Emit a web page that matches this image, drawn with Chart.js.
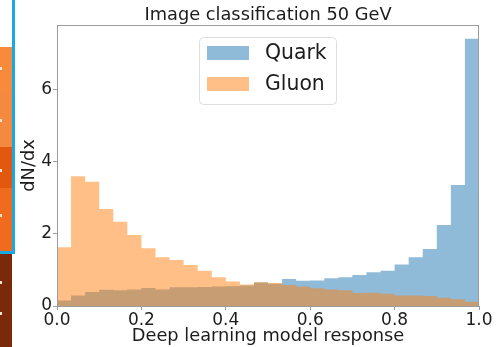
<!DOCTYPE html>
<html>
<head>
<meta charset="utf-8">
<script src="https://cdn.jsdelivr.net/npm/chart.js@4.4.1/dist/chart.umd.min.js"></script>
<style>
  html, body { margin: 0; padding: 0; background: #fff; }
  #wrap { position: relative; width: 501px; height: 347px; overflow: hidden; }
  #histChart { position: absolute; left: 0; top: 0; }
  .strip { position: absolute; left: 0; width: 12px; }
  .dot { position: absolute; left: 0; width: 2px; height: 3px; background: #fbe3d0; }
</style>
</head>
<body>
<div id="wrap">
  <canvas id="histChart" width="501" height="347"></canvas>
  <!-- bit of the slide next to the picture -->
  <div class="strip" style="top:47px;height:46px;background:#f68a3d"></div>
  <div class="strip" style="top:93px;height:54px;background:#f48a3f"></div>
  <div class="strip" style="top:147px;height:41px;background:#e2580f"></div>
  <div class="strip" style="top:188px;height:63px;background:#ef6b1e"></div>
  <div class="strip" style="top:251px;height:96px;background:#7a2a0b"></div>
  <div style="position:absolute;left:12px;top:0;width:3px;height:254px;background:#19a8e6"></div>
  <div style="position:absolute;left:0;top:251px;width:15px;height:3px;background:#19a8e6"></div>
  <div class="dot" style="top:67px"></div>
  <div class="dot" style="top:119px"></div>
  <div class="dot" style="top:169px"></div>
  <div class="dot" style="top:214px"></div>
  <div class="dot" style="top:281px"></div>
  <div class="dot" style="top:312px"></div>
</div>
<script>
// histogram, 30 bins on [0, 1]
const binEdges = Array.from({ length: 31 }, (_, i) => i / 30);

const quark = [0.15, 0.29, 0.39, 0.45, 0.44, 0.46, 0.50, 0.46, 0.52, 0.52,
               0.53, 0.54, 0.55, 0.57, 0.65, 0.62, 0.75, 0.70, 0.71, 0.77,
               0.80, 0.86, 0.94, 0.98, 1.15, 1.35, 1.58, 2.25, 3.36, 7.42];
const gluon = [1.63, 3.60, 3.45, 2.69, 2.34, 1.97, 1.60, 1.35, 1.28, 1.14,
               0.98, 0.80, 0.68, 0.60, 0.66, 0.64, 0.58, 0.54, 0.49, 0.46,
               0.44, 0.36, 0.37, 0.34, 0.29, 0.29, 0.28, 0.23, 0.19, 0.12];

const xTicks = [0, 0.2, 0.4, 0.6, 0.8, 1.0];
const yTicks = [0, 2, 4, 6];

const FONT = "'DejaVu Sans', sans-serif";
const TEXT = "#1c1c1c";
const AXIS = "#9c9c9c";

// step outline: each bin value held from its left edge to the next edge
function toSteps(vals) {
  const pts = vals.map((v, i) => ({ x: binEdges[i], y: v }));
  pts.push({ x: binEdges[vals.length], y: vals[vals.length - 1] });
  return pts;
}

// title, frame and legend drawn the matplotlib way
const mplPlugin = {
  id: "mpl",
  afterDatasetsDraw(chart) {
    const { ctx, chartArea: a } = chart;
    ctx.save();
    ctx.strokeStyle = AXIS;
    ctx.lineWidth = 1;
    ctx.strokeRect(a.left + 0.5, a.top + 0.5, a.right - a.left - 1, a.bottom - a.top);

    // title
    ctx.fillStyle = TEXT;
    ctx.font = "17.8px " + FONT;
    ctx.textAlign = "center";
    ctx.textBaseline = "middle";
    ctx.fillText("Image classification 50 GeV", (a.left + a.right) / 2, 15);

    // legend box
    const bx = 199, by = 37, bw = 137, bh = 67;
    ctx.beginPath();
    ctx.roundRect(bx + 0.5, by + 0.5, bw, bh, 4);
    ctx.fillStyle = "rgba(255,255,255,0.8)";
    ctx.fill();
    ctx.strokeStyle = "#dedede";
    ctx.stroke();

    ctx.font = "20.4px " + FONT;
    ctx.textAlign = "left";
    chart.data.datasets.forEach((ds, i) => {
      const y = 46 + i * 31;
      ctx.fillStyle = ds.backgroundColor;
      ctx.fillRect(207, y, 42, 14);
      ctx.fillStyle = TEXT;
      ctx.fillText(ds.label, 265, y + 7.5);
    });
    ctx.restore();
  }
};

new Chart(document.getElementById("histChart"), {
  type: "line",
  data: {
    datasets: [{
      label: "Quark",
      data: toSteps(quark),
      backgroundColor: "rgba(31, 119, 180, 0.5)",
      borderWidth: 0,
      pointRadius: 0,
      stepped: "before",
      fill: "origin",
      order: 2
    }, {
      label: "Gluon",
      data: toSteps(gluon),
      backgroundColor: "rgba(255, 127, 14, 0.5)",
      borderWidth: 0,
      pointRadius: 0,
      stepped: "before",
      fill: "origin",
      order: 1
    }]
  },
  options: {
    responsive: false,
    animation: false,
    events: [],
    layout: { padding: { top: 25, right: 22, left: 0, bottom: 0 } },
    plugins: {
      legend: { display: false },
      tooltip: { enabled: false },
      title: { display: false }
    },
    scales: {
      x: {
        type: "linear",
        min: 0,
        max: 1,
        afterFit: s => { s.height = 41; },
        afterBuildTicks: s => { s.ticks = xTicks.map(v => ({ value: v })); },
        grid: { drawOnChartArea: false, drawTicks: true, tickLength: 4, color: AXIS },
        border: { display: false },
        ticks: {
          padding: 0,
          maxRotation: 0,
          color: TEXT,
          font: { family: FONT, size: 17 },
          callback: v => v.toFixed(1)
        },
        title: {
          display: true,
          text: "Deep learning model response",
          color: TEXT,
          font: { family: FONT, size: 17.8 },
          padding: { top: 0, bottom: 0 }
        }
      },
      y: {
        min: 0,
        max: 7.8,
        afterFit: s => { s.width = 57; },
        afterBuildTicks: s => { s.ticks = yTicks.map(v => ({ value: v })); },
        grid: { drawOnChartArea: false, drawTicks: true, tickLength: 4, color: AXIS },
        border: { display: false },
        ticks: {
          padding: 1,
          color: TEXT,
          font: { family: FONT, size: 17 },
          callback: v => String(v)
        },
        title: {
          display: true,
          text: "dN/dx",
          color: TEXT,
          font: { family: FONT, size: 17.8 },
          padding: { top: 19, bottom: 0 }
        }
      }
    }
  },
  plugins: [mplPlugin]
});
</script>
</body>
</html>
